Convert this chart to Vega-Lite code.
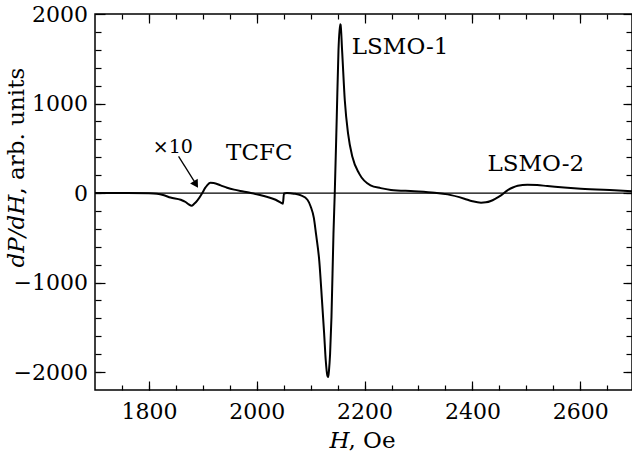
{
  "$schema": "https://vega.github.io/schema/vega-lite/v6.json",
  "width": 537,
  "height": 376,
  "autosize": "none",
  "padding": {"left": 95, "top": 14, "right": 0, "bottom": 65},
  "background": "white",
  "config": {
    "view": {"stroke": "black", "strokeWidth": 1.5},
    "font": "DejaVu Serif",
    "axis": {
      "domain": false, "grid": false, "tickColor": "black", "tickWidth": 1.2,
      "labelColor": "black", "titleColor": "black",
      "labelFont": "DejaVu Serif",
      "titleFont": "DejaVu Serif",
      "labelFontSize": 22, "titleFontSize": 23, "titleFontWeight": "normal"
    }
  },
  "resolve": {"axis": {"x": "independent", "y": "independent"}},
  "layer": [
    {
      "data": {"values": [
        {"H":1700,"V":0},{"H":1760,"V":0},{"H":1800,"V":-3},{"H":1815,"V":-8},{"H":1828,"V":-25},
        {"H":1840,"V":-50},{"H":1859,"V":-75},{"H":1868,"V":-100},{"H":1874,"V":-126},{"H":1879,"V":-142},
        {"H":1884,"V":-120},{"H":1890,"V":-82},{"H":1899,"V":0},{"H":1904,"V":55},{"H":1908,"V":86},
        {"H":1914,"V":114},{"H":1920,"V":112},{"H":1933,"V":86},{"H":1945,"V":60},{"H":1958,"V":38},
        {"H":1975,"V":17},{"H":1989,"V":0},{"H":2004,"V":-20},{"H":2020,"V":-45},{"H":2035,"V":-75},
        {"H":2047,"V":-115},{"H":2048.5,"V":-120},{"H":2050.5,"V":-5},{"H":2056,"V":0},{"H":2069,"V":-7},
        {"H":2082,"V":-26},{"H":2094,"V":-75},{"H":2100,"V":-150},{"H":2106,"V":-280},{"H":2110,"V":-460},
        {"H":2116,"V":-760},{"H":2121,"V":-1200},{"H":2125,"V":-1570},{"H":2128,"V":-1870},{"H":2131,"V":-2040},
        {"H":2132.5,"V":-2056},{"H":2134,"V":-1980},{"H":2136,"V":-1800},{"H":2138.6,"V":-1385},{"H":2142.3,"V":-454},
        {"H":2144.7,"V":0},{"H":2148.4,"V":849},{"H":2151.6,"V":1594},{"H":2154.5,"V":1885},{"H":2155.5,"V":1880},
        {"H":2158.3,"V":1594},{"H":2163.3,"V":1036},{"H":2169.4,"V":664},{"H":2177.5,"V":402},{"H":2190,"V":217},
        {"H":2211,"V":86},{"H":2230,"V":55},{"H":2249,"V":35},{"H":2292,"V":20},{"H":2330,"V":3},
        {"H":2354,"V":-15},{"H":2385,"V":-63},{"H":2400,"V":-92},{"H":2416,"V":-108},{"H":2425,"V":-104},
        {"H":2434,"V":-89},{"H":2443,"V":-62},{"H":2453,"V":-26},{"H":2465,"V":30},{"H":2475,"V":62},
        {"H":2484,"V":82},{"H":2502,"V":94},{"H":2520,"V":90},{"H":2539,"V":78},{"H":2570,"V":62},
        {"H":2601,"V":49},{"H":2663,"V":30},{"H":2696,"V":20}
      ]},
      "mark": {"type": "line", "color": "black", "strokeWidth": 2, "interpolate": "monotone", "clip": true},
      "encoding": {
        "x": {"field": "H", "type": "quantitative",
              "scale": {"domain": [1700, 2696], "nice": false, "zero": false},
              "axis": {"orient": "bottom", "values": [1800, 2000, 2200, 2400, 2600], "format": "d",
                       "tickSize": -9, "labelPadding": 20,
                       "title": "H", "titleFontStyle": "italic", "titleX": 234, "titleY": 57,
                       "titleAlign": "left", "titleBaseline": "alphabetic", "titleAngle": 0}},
        "y": {"field": "V", "type": "quantitative",
              "scale": {"domain": [-2200, 2000], "nice": false, "zero": false},
              "axis": {"orient": "left", "values": [-2000, -1000, 0, 1000, 2000], "format": "d",
                       "tickSize": -10, "labelPadding": 17.5,
                       "title": "dP/dH", "titleFontStyle": "italic", "titleX": -72, "titleY": 253,
                       "titleAlign": "left", "titleBaseline": "alphabetic", "titleAngle": -90}}
      }
    },
    {
      "data": {"values": [{"Ha": 1700, "Hb": 2696, "Z": 0}]},
      "mark": {"type": "rule", "color": "black", "strokeWidth": 1.3},
      "encoding": {
        "x": {"field": "Ha", "type": "quantitative",
              "axis": {"orient": "bottom", "values": [1750,1800,1850,1900,1950,2000,2050,2100,2150,2200,2250,2300,2350,2400,2450,2500,2550,2600,2650],
                       "tickSize": -5, "labels": false,
                       "title": ", Oe", "titleX": 253, "titleY": 57,
                       "titleAlign": "left", "titleBaseline": "alphabetic", "titleAngle": 0}},
        "x2": {"field": "Hb"},
        "y": {"field": "Z", "type": "quantitative",
              "axis": {"orient": "left", "values": [-2000,-1800,-1600,-1400,-1200,-1000,-800,-600,-400,-200,0,200,400,600,800,1000,1200,1400,1600,1800],
                       "tickSize": -6, "labels": false,
                       "title": ", arb. units", "titleX": -72, "titleY": 180,
                       "titleAlign": "left", "titleBaseline": "alphabetic", "titleAngle": -90}}
      }
    },
    {
      "data": {"values": [{"H1": 1855, "V1": 410, "H2": 1888, "V2": 95}]},
      "mark": {"type": "rule", "color": "black", "strokeWidth": 1.3},
      "encoding": {
        "x": {"field": "H1", "type": "quantitative",
              "axis": {"orient": "top", "values": [1800, 2000, 2200, 2400, 2600], "tickSize": -9, "labels": false, "title": null}},
        "x2": {"field": "H2"},
        "y": {"field": "V1", "type": "quantitative",
              "axis": {"orient": "right", "values": [-2000, -1000, 0, 1000, 2000], "tickSize": -9, "labels": false, "title": null}},
        "y2": {"field": "V2"}
      }
    },
    {
      "data": {"values": [{"H": 1886, "V": 108}]},
      "mark": {"type": "point", "shape": "triangle", "filled": true, "color": "black", "opacity": 1, "size": 80, "angle": 148},
      "encoding": {
        "x": {"field": "H", "type": "quantitative",
              "axis": {"orient": "top", "values": [1750,1800,1850,1900,1950,2000,2050,2100,2150,2200,2250,2300,2350,2400,2450,2500,2550,2600,2650],
                       "tickSize": -5, "labels": false, "title": null}},
        "y": {"field": "V", "type": "quantitative",
              "axis": {"orient": "right", "values": [-2000,-1800,-1600,-1400,-1200,-1000,-800,-600,-400,-200,0,200,400,600,800,1000,1200,1400,1600,1800],
                       "tickSize": -6, "labels": false, "title": null}}
      }
    },
    {
      "data": {"values": [{"H": 1844.5, "V": 451, "label": "×10"}]},
      "mark": {"type": "text", "font": "DejaVu Serif", "fontSize": 19, "color": "black", "align": "center", "baseline": "alphabetic"},
      "encoding": {
        "x": {"field": "H", "type": "quantitative", "axis": null},
        "y": {"field": "V", "type": "quantitative", "axis": null},
        "text": {"field": "label"}
      }
    },
    {
      "data": {"values": [
        {"H": 2004.8, "V": 373, "label": "TCFC"},
        {"H": 2266, "V": 1558, "label": "LSMO-1"},
        {"H": 2517.6, "V": 246, "label": "LSMO-2"}
      ]},
      "mark": {"type": "text", "font": "DejaVu Serif", "fontSize": 23, "color": "black", "align": "center", "baseline": "alphabetic"},
      "encoding": {
        "x": {"field": "H", "type": "quantitative", "axis": null},
        "y": {"field": "V", "type": "quantitative", "axis": null},
        "text": {"field": "label"}
      }
    }
  ]
}
